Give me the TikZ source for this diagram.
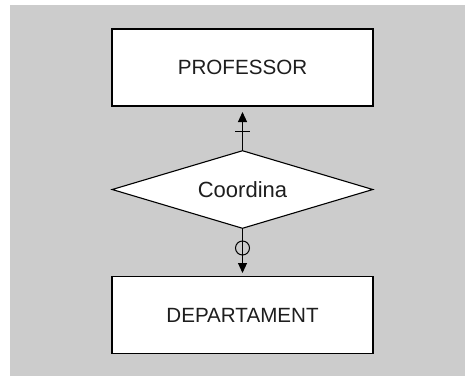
\documentclass[tikz,border=0pt]{standalone}
\usepackage{fontspec}
\setmainfont{Liberation Sans}
\usetikzlibrary{shapes.geometric,arrows.meta}
\definecolor{bggray}{RGB}{204,204,204}
\definecolor{txt}{RGB}{30,30,30}
\begin{document}
\begin{tikzpicture}[x=1pt,y=-1pt,
  entity/.style={draw=black,line width=1.3pt,fill=white,minimum width=261pt,minimum height=77pt,inner sep=0pt,text=txt,font=\fontsize{20.6}{24}\selectfont},
  rel/.style={diamond,draw=black,line width=1.1pt,fill=white,minimum width=261pt,minimum height=78pt,inner sep=0pt},
  reltext/.style={text=txt,inner sep=0pt,font=\fontsize{22}{26}\selectfont},
  conn/.style={line width=1.1pt,-{Triangle[length=10pt,width=9pt]}}]
\useasboundingbox (0,0) rectangle (465,376);
\fill[white] (0,0) rectangle (465,376);
\fill[bggray] (10,5) rectangle (465,376);
\node[entity] (prof) at (242.5,67.5) {PROFESSOR};
\node[entity] (dep) at (242.5,315) {DEPARTAMENT};
\node[rel] (coord) at (242.5,189.5) {};
\node[reltext] (coordtext) at (coord.center) {Coordina};
\coordinate (uptip) at (242.5,112);
\coordinate (dntip) at (242.5,273);
\draw[conn] (coord.north) -- (uptip);
\draw[conn] (coord.south) -- (dntip);
\coordinate (bar) at (242.5,131);
\draw[line width=1pt] ([xshift=-7.5pt]bar) -- ([xshift=7.5pt]bar);
\coordinate (circ) at (242.5,248);
\draw[line width=1pt] (circ) circle (7pt);
\end{tikzpicture}
\end{document}
